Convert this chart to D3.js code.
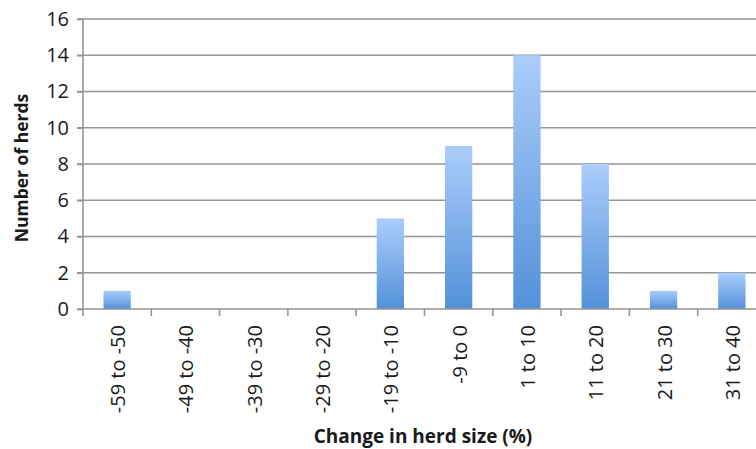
<!DOCTYPE html>
<html>
<head>
<meta charset="utf-8">
<script src="https://cdn.jsdelivr.net/npm/d3@7"></script>
<style>
  html, body { margin: 0; padding: 0; background: #fff; overflow: hidden; }
  svg { display: block; }
  text { font-family: "Open Sans", "Liberation Sans", sans-serif; fill: #1a1a1a; }
</style>
</head>
<body>
<svg id="chart" width="756" height="449"></svg>
<script>
// Herd size change distribution
const categories = ["-59 to -50", "-49 to -40", "-39 to -30", "-29 to -20", "-19 to -10",
                    "-9 to 0", "1 to 10", "11 to 20", "21 to 30", "31 to 40"];
const herdCounts = [1, 0, 0, 0, 5, 9, 14, 8, 1, 2];
const yTicks = [0, 2, 4, 6, 8, 10, 12, 14, 16];
const xTitle = "Change in herd size (%)";
const yTitle = "Number of herds";

const svg = d3.select("#chart");
const plotLeft = 83, plotTop = 19, plotBottom = 309, plotRight = 766;
const axisColor = "#959595";

const x = d3.scaleBand()
  .domain(categories)
  .range([plotLeft, plotRight])
  .paddingInner(0.6)
  .paddingOuter(0.3);

const y = d3.scaleLinear().domain([0, 16]).range([plotBottom, plotTop]);

// gradient fill for bars
const defs = svg.append("defs");
const grad = defs.append("linearGradient")
  .attr("id", "barGrad").attr("x1", 0).attr("y1", 0).attr("x2", 0).attr("y2", 1);
grad.append("stop").attr("offset", "0%").attr("stop-color", "#abcdfb");
grad.append("stop").attr("offset", "100%").attr("stop-color", "#5391d9");

// horizontal gridlines
svg.append("g")
  .selectAll("line")
  .data(yTicks.filter(d => d > 0))
  .join("line")
  .attr("x1", plotLeft - 6).attr("x2", 756)
  .attr("y1", d => y(d)).attr("y2", d => y(d))
  .attr("stroke", axisColor).attr("stroke-width", 1.6);

// bars
svg.append("g")
  .selectAll("rect")
  .data(categories.map((c, i) => ({ c, v: herdCounts[i] })).filter(d => d.v > 0))
  .join("rect")
  .attr("x", d => x(d.c))
  .attr("width", x.bandwidth())
  .attr("y", d => y(d.v))
  .attr("height", d => y(0) - y(d.v))
  .attr("fill", "url(#barGrad)");

// y axis
const yAxis = svg.append("g")
  .attr("transform", `translate(${plotLeft},0)`)
  .call(d3.axisLeft(y).tickValues(yTicks).tickSize(6).tickPadding(8));
yAxis.select(".domain").attr("stroke", axisColor).attr("stroke-width", 1.6)
  .attr("d", `M0,${plotTop}V${plotBottom}`);
yAxis.selectAll(".tick line").attr("stroke", axisColor).attr("stroke-width", 1.6);
yAxis.selectAll(".tick text")
  .style("font-family", "'Open Sans', sans-serif")
  .style("font-size", "20px").attr("fill", "#1a1a1a");

// x axis baseline and category boundary ticks
const xAxisG = svg.append("g");
xAxisG.append("line")
  .attr("x1", plotLeft - 6).attr("x2", 756)
  .attr("y1", plotBottom).attr("y2", plotBottom)
  .attr("stroke", axisColor).attr("stroke-width", 1.6);
const step = x.step();
xAxisG.selectAll("line.tick")
  .data(d3.range(categories.length + 1))
  .join("line")
  .attr("class", "tick")
  .attr("x1", i => plotLeft + i * step).attr("x2", i => plotLeft + i * step)
  .attr("y1", plotBottom).attr("y2", plotBottom + 7)
  .attr("stroke", axisColor).attr("stroke-width", 1.6);

// rotated category labels
xAxisG.selectAll("text")
  .data(categories)
  .join("text")
  .attr("transform", d => `translate(${x(d) + x.bandwidth() / 2 + 8},${plotBottom + 16}) rotate(-90)`)
  .attr("text-anchor", "end")
  .style("font-size", "20px")
  .text(d => d);

// axis titles
svg.append("text")
  .attr("x", 423).attr("y", 443)
  .attr("text-anchor", "middle")
  .style("font-size", "19px").style("font-weight", "bold")
  .text(xTitle);

svg.append("text")
  .attr("transform", "translate(28,168) rotate(-90)")
  .attr("text-anchor", "middle")
  .style("font-size", "17.5px").style("font-weight", "bold")
  .text(yTitle);
</script>
</body>
</html>
